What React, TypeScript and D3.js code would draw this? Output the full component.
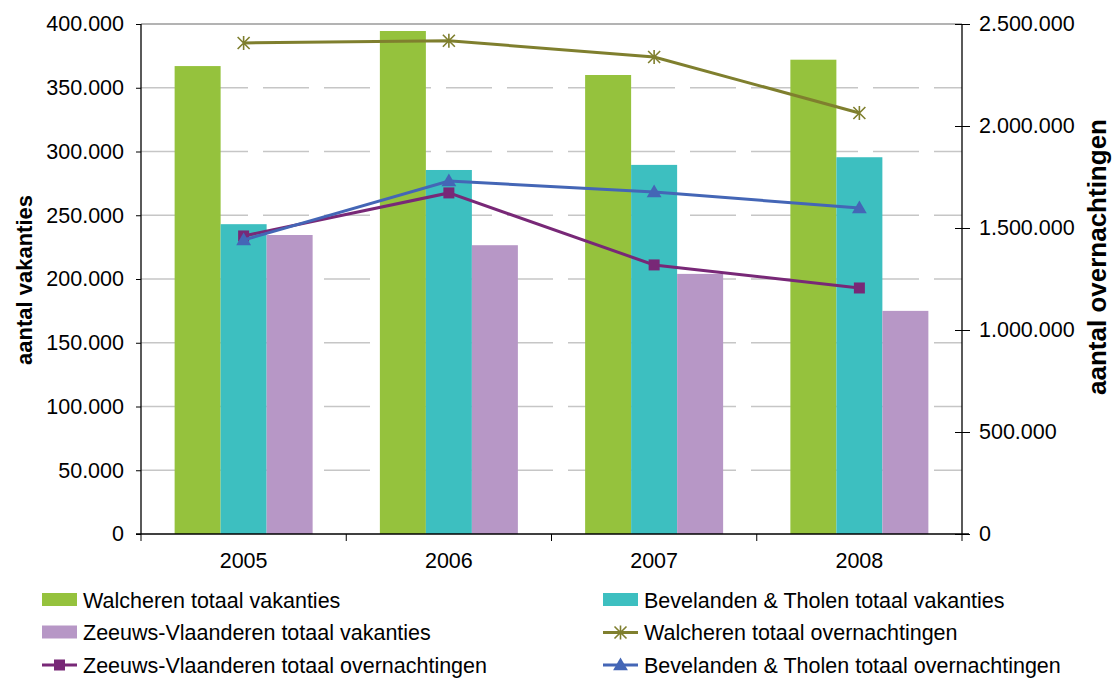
import React, { useEffect, useRef } from 'react';
import * as d3 from 'd3';

// Data
const years: string[] = ['2005', '2006', '2007', '2008'];

const walcherenVakanties: number[] = [367000, 394500, 360000, 372000];
const bevelandenVakanties: number[] = [243000, 285500, 289500, 295500];
const zeeuwsVakanties: number[] = [234500, 226500, 204000, 175000];

const walcherenOvernachtingen: number[] = [2407000, 2418000, 2338000, 2064000];
const zeeuwsOvernachtingen: number[] = [1461000, 1672000, 1319000, 1206000];
const bevelandenOvernachtingen: number[] = [1441000, 1730000, 1676000, 1598000];

const leftTicks: number[] = [0, 50000, 100000, 150000, 200000, 250000, 300000, 350000, 400000];
const rightTicks: number[] = [0, 500000, 1000000, 1500000, 2000000, 2500000];

const barSeries = [
    { name: 'Walcheren totaal vakanties', values: walcherenVakanties, color: '#95c23d' },
    { name: 'Bevelanden & Tholen totaal vakanties', values: bevelandenVakanties, color: '#3dbfc0' },
    { name: 'Zeeuws-Vlaanderen totaal vakanties', values: zeeuwsVakanties, color: '#b797c6' }
];

const lineSeries = [
    { name: 'Walcheren totaal overnachtingen', values: walcherenOvernachtingen, color: '#7f7f2e', marker: 'star' },
    { name: 'Zeeuws-Vlaanderen totaal overnachtingen', values: zeeuwsOvernachtingen, color: '#782877', marker: 'square' },
    { name: 'Bevelanden & Tholen totaal overnachtingen', values: bevelandenOvernachtingen, color: '#4466b6', marker: 'triangle' }
];

// legend order as in the picture: two columns, three rows
const legendItems = [
    { kind: 'bar', s: 0 }, { kind: 'bar', s: 1 },
    { kind: 'bar', s: 2 }, { kind: 'line', s: 0 },
    { kind: 'line', s: 1 }, { kind: 'line', s: 2 }
];

const fmt = (v: number) => d3.format(',')(v).replace(/,/g, '.');

const FONT = 'Liberation Sans, Arial, sans-serif';
const FS = 21.5;

function drawMarker(g: d3.Selection<SVGGElement, unknown, null, undefined>, type: string, x: number, y: number, color: string) {
    if (type === 'star') {
        const r = 6;
        g.append('path')
            .attr('d', `M${x - r},${y - r}L${x + r},${y + r}M${x - r},${y + r}L${x + r},${y - r}M${x},${y - r - 1}L${x},${y + r + 1}`)
            .attr('stroke', color)
            .attr('stroke-width', 1.6)
            .attr('fill', 'none');
    } else if (type === 'square') {
        g.append('rect')
            .attr('x', x - 5.5).attr('y', y - 5.5)
            .attr('width', 11).attr('height', 11)
            .attr('fill', color);
    } else {
        g.append('path')
            .attr('d', d3.symbol().type(d3.symbolTriangle).size(95)())
            .attr('transform', `translate(${x},${y + 1})`)
            .attr('fill', color);
    }
}

const App: React.FC = () => {
    const svgRef = useRef<SVGSVGElement>(null);

    useEffect(() => {
        if (!svgRef.current) return;
        const svg = d3.select(svgRef.current);
        svg.selectAll('*').remove();

        const left = 141, right = 962, top = 24, bottom = 534;

        const x0 = d3.scaleBand<string>()
            .domain(years)
            .range([left, right])
            .paddingInner(0)
            .paddingOuter(0);

        const x1 = d3.scaleBand<number>()
            .domain(barSeries.map((_, i) => i))
            .range([0, 138]);
        const groupOffset = (x0.bandwidth() - 138) / 2;

        const yLeft = d3.scaleLinear().domain([0, 400000]).range([bottom, top]);
        const yRight = d3.scaleLinear().domain([0, 2500000]).range([bottom, top]);

        const root = svg.append('g');

        // gridlines (dashed), top one solid
        root.append('g')
            .selectAll('line')
            .data(leftTicks.filter(t => t > 0 && t < 400000))
            .enter().append('line')
            .attr('x1', left).attr('x2', right)
            .attr('y1', d => yLeft(d)).attr('y2', d => yLeft(d))
            .attr('stroke', '#c6c6c6')
            .attr('stroke-width', 1.5)
            .attr('stroke-dasharray', '46,15');

        root.append('line')
            .attr('x1', left).attr('x2', right)
            .attr('y1', yLeft(400000)).attr('y2', yLeft(400000))
            .attr('stroke', '#9a9a9a')
            .attr('stroke-width', 1.5);

        // bars
        barSeries.forEach((s, i) => {
            root.append('g')
                .selectAll('rect')
                .data(s.values)
                .enter().append('rect')
                .attr('x', (d, j) => (x0(years[j]) as number) + groupOffset + (x1(i) as number))
                .attr('y', d => yLeft(d))
                .attr('width', x1.bandwidth())
                .attr('height', d => bottom - yLeft(d))
                .attr('fill', s.color);
        });

        // axes
        const axisColor = '#000';
        const leftAxis = root.append('g')
            .attr('transform', `translate(${left},0)`)
            .call(d3.axisLeft(yLeft).tickValues(leftTicks).tickSize(5).tickPadding(12).tickFormat(d => fmt(d as number)));
        leftAxis.select('.domain').attr('stroke', axisColor).attr('stroke-width', 1.3).attr('d', `M0,${top}V${bottom}`);
        leftAxis.selectAll('.tick line').attr('stroke', axisColor);
        leftAxis.selectAll('text').attr('font-family', FONT).attr('font-size', FS).attr('fill', '#000');

        const rightAxis = root.append('g')
            .attr('transform', `translate(${right},0)`)
            .call(d3.axisRight(yRight).tickValues(rightTicks).tickSize(8).tickPadding(9).tickFormat(d => fmt(d as number)));
        rightAxis.select('.domain').attr('stroke', axisColor).attr('stroke-width', 1.3).attr('d', `M0,${top}V${bottom}`);
        rightAxis.selectAll('.tick line').attr('stroke', axisColor).attr('x1', -7);
        rightAxis.selectAll('text').attr('font-family', FONT).attr('font-size', FS).attr('fill', '#000');

        const bottomAxis = root.append('g')
            .attr('transform', `translate(0,${bottom})`)
            .call(d3.axisBottom(x0).tickSize(0).tickPadding(19));
        bottomAxis.select('.domain').attr('stroke', axisColor).attr('stroke-width', 1.3).attr('d', `M${left - 5},0H${right + 7}`);
        bottomAxis.selectAll('text').attr('font-family', FONT).attr('font-size', FS).attr('fill', '#000');

        // category boundary ticks
        root.append('g')
            .selectAll('line')
            .data([...years.map(y => x0(y) as number), right])
            .enter().append('line')
            .attr('x1', d => d).attr('x2', d => d)
            .attr('y1', bottom).attr('y2', bottom + 7)
            .attr('stroke', axisColor);

        // axis titles
        root.append('text')
            .attr('transform', `translate(32,280) rotate(-90)`)
            .attr('text-anchor', 'middle')
            .attr('font-family', FONT)
            .attr('font-weight', 'bold')
            .attr('font-size', 22)
            .text('aantal vakanties');

        root.append('text')
            .attr('transform', `translate(1106,257) rotate(-90)`)
            .attr('text-anchor', 'middle')
            .attr('font-family', FONT)
            .attr('font-weight', 'bold')
            .attr('font-size', 26)
            .text('aantal overnachtingen');

        // lines
        const cx = (j: number) => (x0(years[j]) as number) + x0.bandwidth() / 2;
        lineSeries.forEach(s => {
            const line = d3.line<number>()
                .x((_, j) => cx(j))
                .y(d => yRight(d));
            root.append('path')
                .datum(s.values)
                .attr('fill', 'none')
                .attr('stroke', s.color)
                .attr('stroke-width', 3)
                .attr('d', line);
            const mg = root.append('g');
            s.values.forEach((v, j) => drawMarker(mg, s.marker, cx(j), yRight(v), s.color));
        });

        // legend
        const legend = root.append('g');
        legendItems.forEach((item, k) => {
            const col = k % 2, row = Math.floor(k / 2);
            const lx = col === 0 ? 42 : 603;
            const ly = 600 + row * 32.5;
            const g = legend.append('g');
            if (item.kind === 'bar') {
                const s = barSeries[item.s];
                g.append('rect')
                    .attr('x', lx).attr('y', ly - 7)
                    .attr('width', 35).attr('height', 13)
                    .attr('fill', s.color);
                g.append('text')
                    .attr('x', lx + 41).attr('y', ly)
                    .attr('dy', '0.35em')
                    .attr('font-family', FONT).attr('font-size', FS)
                    .text(s.name);
            } else {
                const s = lineSeries[item.s];
                g.append('line')
                    .attr('x1', lx).attr('x2', lx + 35)
                    .attr('y1', ly).attr('y2', ly)
                    .attr('stroke', s.color).attr('stroke-width', 3);
                drawMarker(g, s.marker, lx + 17.5, ly, s.color);
                g.append('text')
                    .attr('x', lx + 41).attr('y', ly)
                    .attr('dy', '0.35em')
                    .attr('font-family', FONT).attr('font-size', FS)
                    .text(s.name);
            }
        });
    }, []);

    return (
        <svg ref={svgRef} width={1113} height={678}
            style={{ position: 'absolute', left: 0, top: 0, background: '#fff' }} />
    );
};

export default App;
